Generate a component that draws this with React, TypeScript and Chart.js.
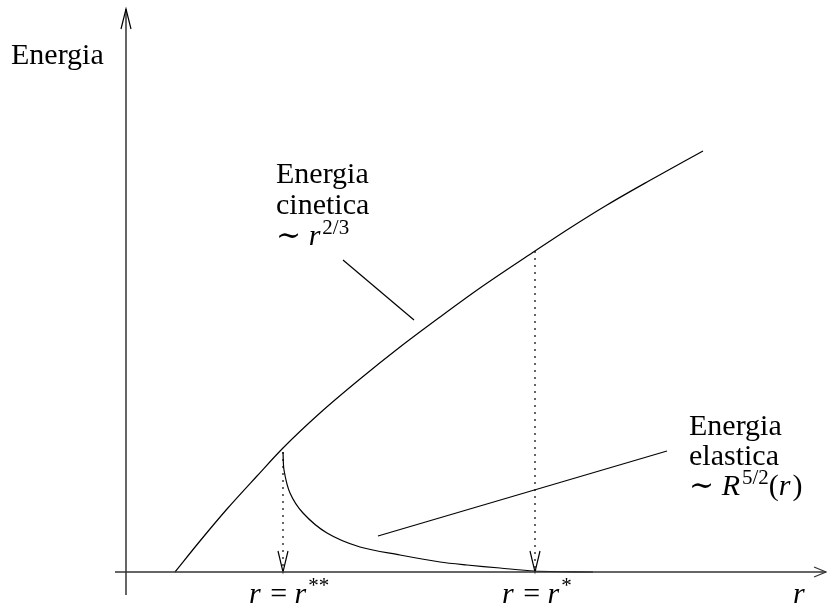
import React, { useEffect, useRef } from "react";
import { Chart, registerables } from "chart.js";

Chart.register(...registerables);

// Radius r (horizontal) and energy (vertical), in arbitrary units.
const kineticR = [0.49, 0.74, 1.01, 1.31, 1.57, 1.94, 2.34, 2.74, 3.14, 3.54, 4.09, 4.44, 4.81, 5.21, 5.77];
const kineticE = [0.0, 0.31, 0.63, 0.96, 1.24, 1.59, 1.93, 2.25, 2.55, 2.84, 3.21, 3.44, 3.67, 3.9, 4.21];

const elasticR = [1.57, 1.58, 1.64, 1.77, 2.01, 2.34, 2.74, 3.14, 3.41, 3.74, 4.08, 4.67];
const elasticE = [1.2, 1.02, 0.79, 0.59, 0.39, 0.25, 0.17, 0.1, 0.07, 0.04, 0.01, 0.0];

// Characteristic radii r** and r* with the energy where they meet the kinetic curve.
const rStarStar = 1.57;
const rStarStarE = 1.2;
const rStar = 4.09;
const rStarE = 3.21;

// Leader lines pointing from the labels to the curves.
const kineticLeader = [
  { x: 2.17, y: 3.12 },
  { x: 2.88, y: 2.52 },
];
const elasticLeader = [
  { x: 2.52, y: 0.36 },
  { x: 5.41, y: 1.21 },
];

// Axis extents.
const rAxisMin = -0.11;
const rAxisMax = 7.0;
const eAxisMin = -0.23;
const eAxisMax = 5.63;

const FONT = '"Liberation Serif", "DejaVu Serif", serif';

type Run = { t: string; it?: boolean; sup?: boolean };
type Label = { x: number; y: number; runs: Run[] };

const labels: Label[] = [
  { x: -1.15, y: 5.08, runs: [{ t: "Energia" }] },
  { x: 1.5, y: 3.89, runs: [{ t: "Energia" }] },
  { x: 1.5, y: 3.58, runs: [{ t: "cinetica" }] },
  { x: 1.5, y: 3.27, runs: [{ t: "\u223C " }, { t: "r", it: true }, { t: "2/3", sup: true }] },
  { x: 5.63, y: 1.37, runs: [{ t: "Energia" }] },
  { x: 5.63, y: 1.07, runs: [{ t: "elastica" }] },
  {
    x: 5.63,
    y: 0.77,
    runs: [{ t: "\u223C " }, { t: "R", it: true }, { t: "5/2", sup: true }, { t: "(" }, { t: "r", it: true }, { t: ")" }],
  },
  { x: 1.23, y: -0.31, runs: [{ t: "r", it: true }, { t: " = " }, { t: "r", it: true }, { t: "**", sup: true }] },
  { x: 3.76, y: -0.31, runs: [{ t: "r", it: true }, { t: " = " }, { t: "r", it: true }, { t: "*", sup: true }] },
  { x: 6.67, y: -0.31, runs: [{ t: "r", it: true }] },
];

const SIZE = 30;

const textPlugin = {
  id: "mathLabels",
  afterDatasetsDraw(chart: any) {
    const { ctx, scales } = chart;
    ctx.save();
    ctx.fillStyle = "#000";
    ctx.textBaseline = "alphabetic";
    ctx.textAlign = "left";
    for (const lab of labels) {
      let px = scales.x.getPixelForValue(lab.x);
      const py = scales.y.getPixelForValue(lab.y);
      for (const run of lab.runs) {
        const size = run.sup ? SIZE * 0.7 : SIZE;
        ctx.font = `${run.it ? "italic " : ""}${size}px ${FONT}`;
        const yy = run.sup ? py - SIZE * 0.38 : py;
        ctx.fillText(run.t, px, yy);
        px += ctx.measureText(run.t).width + (run.it && !run.sup ? 2 : 0);
      }
    }
    ctx.restore();
  },
};

function zip(xs: number[], ys: number[]) {
  return xs.map((x, i) => ({ x, y: ys[i] }));
}

function arrowHead(x: number, y: number, dir: "up" | "down" | "right") {
  if (dir === "down") return [{ x: x - 0.05, y: y + 0.21 }, { x, y }, { x: x + 0.05, y: y + 0.21 }];
  if (dir === "up") return [{ x: x - 0.05, y: y - 0.2 }, { x, y }, { x: x + 0.05, y: y - 0.2 }];
  return [{ x: x - 0.12, y: y + 0.05 }, { x, y }, { x: x - 0.12, y: y - 0.05 }];
}

const solid = (data: { x: number; y: number }[], extra: any = {}) => ({
  data,
  showLine: true,
  borderColor: "#000",
  borderWidth: 1.2,
  pointRadius: 0,
  fill: false,
  clip: false,
  ...extra,
});

export default function App() {
  const ref = useRef<HTMLCanvasElement>(null);

  useEffect(() => {
    if (!ref.current) return;
    const chart = new Chart(ref.current, {
      type: "scatter",
      data: {
        datasets: [
          // axes
          solid([{ x: rAxisMin, y: 0 }, { x: rAxisMax, y: 0 }], { borderColor: "#333", borderWidth: 1.6 }),
          solid(arrowHead(rAxisMax, 0, "right"), { borderColor: "#333" }),
          solid([{ x: 0, y: eAxisMin }, { x: 0, y: eAxisMax }]),
          solid(arrowHead(0, eAxisMax, "up")),
          // curves
          solid(zip(kineticR, kineticE), { cubicInterpolationMode: "monotone" }),
          solid(zip(elasticR, elasticE), { tension: 0.3 }),
          // leaders
          solid(kineticLeader),
          solid(elasticLeader),
          // dotted drops to the r axis
          solid([{ x: rStarStar, y: rStarStarE }, { x: rStarStar, y: 0.02 }], { borderDash: [2, 5] }),
          solid(arrowHead(rStarStar, 0, "down")),
          solid([{ x: rStar, y: rStarE }, { x: rStar, y: 0.02 }], { borderDash: [2, 5] }),
          solid(arrowHead(rStar, 0, "down")),
        ],
      },
      options: {
        animation: false,
        responsive: false,
        layout: { padding: 0 },
        plugins: { legend: { display: false }, tooltip: { enabled: false } },
        scales: {
          x: { type: "linear", display: false, min: -1.26, max: 7.01 },
          y: { type: "linear", display: false, min: -0.38, max: 5.72 },
        },
      },
      plugins: [textPlugin],
    });
    return () => chart.destroy();
  }, []);

  return (
    <div style={{ position: "fixed", left: 0, top: 0, width: 827, height: 610, background: "#fff" }}>
      <canvas ref={ref} width={827} height={610} />
    </div>
  );
}
